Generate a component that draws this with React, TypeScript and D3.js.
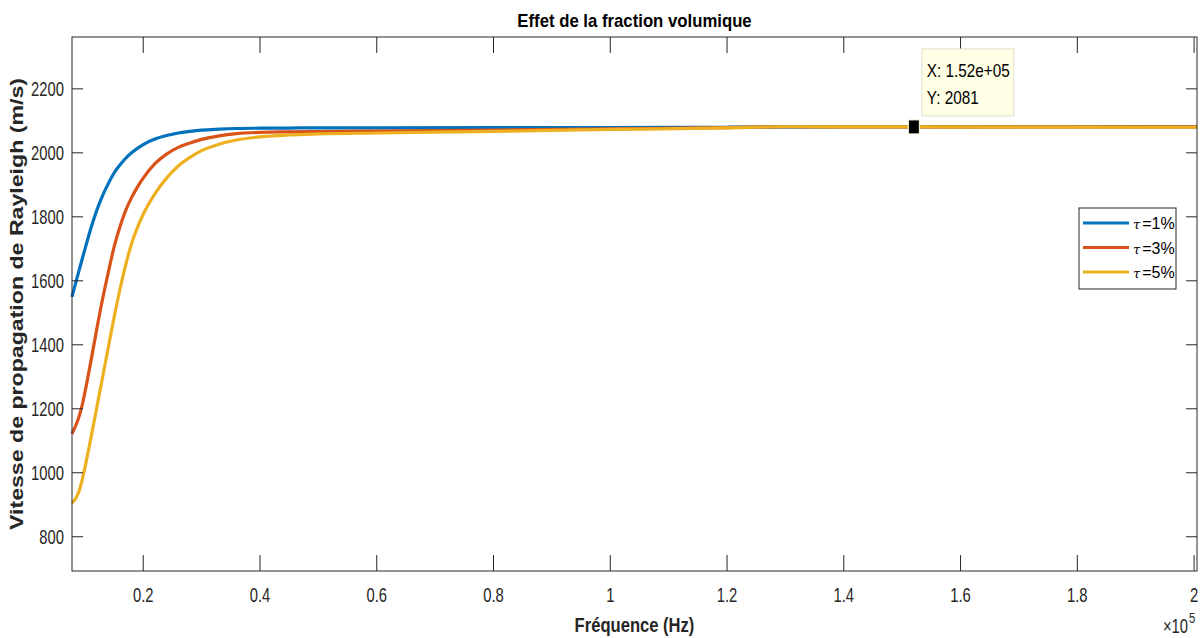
import { useEffect, useRef } from "react";
import * as d3 from "d3";

// fréquences (x 1e5 Hz)
const freq = [0.078, 0.085, 0.09, 0.095, 0.1, 0.11, 0.12, 0.13, 0.14, 0.15, 0.16, 0.17, 0.18, 0.19, 0.2, 0.22, 0.24, 0.26, 0.28, 0.3, 0.33, 0.36, 0.4, 0.45, 0.5, 0.6, 0.8, 1.0, 1.2, 1.3, 1.5, 1.7, 2.005];

const tau1 = [1550, 1598, 1632, 1665, 1698, 1762, 1818, 1865, 1903, 1937, 1962, 1983, 2000, 2014, 2026, 2043, 2054, 2062, 2067, 2071, 2074, 2076, 2077, 2077.5, 2078, 2078, 2078.5, 2079, 2080, 2080.5, 2081, 2081, 2081];
const tau3 = [1122, 1150, 1175, 1208, 1250, 1345, 1445, 1540, 1625, 1705, 1768, 1820, 1860, 1893, 1921, 1966, 1996, 2017, 2031, 2042, 2053, 2060, 2064, 2065.5, 2066.5, 2068, 2071, 2075, 2079, 2081.5, 2081, 2081, 2081];
const tau5 = [905, 922, 942, 975, 1015, 1105, 1200, 1295, 1390, 1485, 1572, 1650, 1716, 1766, 1808, 1872, 1921, 1959, 1986, 2007, 2027, 2040, 2050, 2056, 2059, 2062, 2067, 2073, 2078, 2081.5, 2081, 2080.5, 2080];

const seriesNames = ["=1%", "=3%", "=5%"];
const colors = ["#0072BD", "#D95319", "#EDB120"];

const xTicks = [0.2, 0.4, 0.6, 0.8, 1, 1.2, 1.4, 1.6, 1.8, 2];
const yTicks = [800, 1000, 1200, 1400, 1600, 1800, 2000, 2200];

const tipX = 1.52;
const tipY = 2081;

export default function App() {
  const ref = useRef<SVGSVGElement>(null);

  useEffect(() => {
    const W = 1200, H = 638;
    const m = { left: 72, top: 37, right: 1197, bottom: 571 };
    const svg = d3.select(ref.current).attr("width", W).attr("height", H);
    svg.selectAll("*").remove();

    const font = "'Liberation Sans', Arial, sans-serif";

    // texte étroit (Helvetica Narrow-like) via scaleX
    function ntext(g: any, x: number, y: number, s: string, size: number, anchor: string, sx: number, bold = false) {
      return g
        .append("text")
        .attr("transform", `translate(${x},${y}) scale(${sx},1)`)
        .attr("text-anchor", anchor)
        .style("font-family", font)
        .style("font-size", size + "px")
        .style("font-weight", bold ? "bold" : "normal")
        .text(s);
    }

    const x = d3.scaleLinear().domain([0.078, 2.005]).range([m.left, m.right]);
    const y = d3.scaleLinear().domain([693, 2362]).range([m.bottom, m.top]);

    svg.append("rect").attr("width", W).attr("height", H).attr("fill", "#fff");

    // lignes
    const series = [tau1, tau3, tau5];
    const line = d3
      .line<number>()
      .x((_, i) => x(freq[i]))
      .y(d => y(d))
      .curve(d3.curveMonotoneX);

    const plot = svg.append("g");
    series.forEach((s, k) => {
      plot
        .append("path")
        .datum(s)
        .attr("fill", "none")
        .attr("stroke", colors[k])
        .attr("stroke-width", 3.2)
        .attr("stroke-linejoin", "round")
        .attr("d", line);
    });

    // boîte + ticks
    const ax = svg.append("g").attr("stroke", "#262626").attr("stroke-width", 1);
    ax.append("rect")
      .attr("x", m.left).attr("y", m.top)
      .attr("width", m.right - m.left).attr("height", m.bottom - m.top)
      .attr("fill", "none");
    xTicks.forEach(t => {
      ax.append("line").attr("x1", x(t)).attr("x2", x(t)).attr("y1", m.bottom).attr("y2", m.bottom - 16);
      ax.append("line").attr("x1", x(t)).attr("x2", x(t)).attr("y1", m.top).attr("y2", m.top + 16);
    });
    yTicks.forEach(t => {
      ax.append("line").attr("x1", m.left).attr("x2", m.left + 11).attr("y1", y(t)).attr("y2", y(t));
      ax.append("line").attr("x1", m.right).attr("x2", m.right - 11).attr("y1", y(t)).attr("y2", y(t));
    });

    const labels = svg.append("g").attr("fill", "#262626");
    xTicks.forEach(t => ntext(labels, x(t), 602, d3.format("~g")(t), 20, "middle", 0.74));
    yTicks.forEach(t => ntext(labels, 64, y(t) + 7, String(t), 20, "end", 0.74));

    // ×10^5
    ntext(labels, 1188, 633, "×10", 20, "end", 0.74);
    ntext(labels, 1189, 623, "5", 14, "start", 0.8);

    // titres
    ntext(svg, (m.left + m.right) / 2, 27, "Effet de la fraction volumique", 18, "middle", 0.93, true).attr("fill", "#000");
    ntext(svg, (m.left + m.right) / 2, 632, "Fréquence (Hz)", 20, "middle", 0.83, true).attr("fill", "#262626");
    svg.append("text")
      .attr("transform", `translate(23,304) rotate(-90)`)
      .attr("text-anchor", "middle")
      .attr("textLength", 452)
      .attr("lengthAdjust", "spacingAndGlyphs")
      .style("font-family", font).style("font-size", "19px").style("font-weight", "bold")
      .attr("fill", "#262626")
      .text("Vitesse de propagation de Rayleigh (m/s)");

    // légende
    const lg = svg.append("g").attr("transform", "translate(1079,208)");
    lg.append("rect").attr("width", 97).attr("height", 81).attr("fill", "#fff").attr("stroke", "#262626").attr("stroke-width", 1);
    seriesNames.forEach((n, i) => {
      const yy = 15 + i * 24.5;
      lg.append("line").attr("x1", 4).attr("x2", 50).attr("y1", yy).attr("y2", yy).attr("stroke", colors[i]).attr("stroke-width", 3.2);
      const t = lg.append("text").attr("x", 54).attr("y", yy + 6).style("font-family", font).style("font-size", "16px").attr("fill", "#000");
      t.append("tspan").style("font-style", "italic").style("font-family", "'DejaVu Serif', serif").style("font-size", "13px").text("τ");
      t.append("tspan").attr("dx", 2).text(n);
    });

    // datatip
    const px = x(tipX), py = y(tipY);
    svg.append("rect").attr("x", px - 5.5).attr("y", py - 7).attr("width", 11).attr("height", 14)
      .attr("fill", "#000").attr("stroke", "#ffffe0").attr("stroke-width", 1);
    const tip = svg.append("g").attr("transform", `translate(${px + 8},${py - 78})`);
    tip.append("rect").attr("width", 92).attr("height", 67).attr("fill", "#ffffe6").attr("stroke", "#e0e0d0").attr("stroke-width", 1);
    ntext(tip, 5, 28, `X: ${d3.format(".2e")(tipX * 1e5).replace("e+5", "e+05")}`, 18, "start", 0.85).attr("fill", "#000");
    ntext(tip, 5, 55, `Y: ${tipY}`, 18, "start", 0.85).attr("fill", "#000");
  }, []);

  return <svg ref={ref} style={{ position: "absolute", left: 0, top: 0 }} />;
}
